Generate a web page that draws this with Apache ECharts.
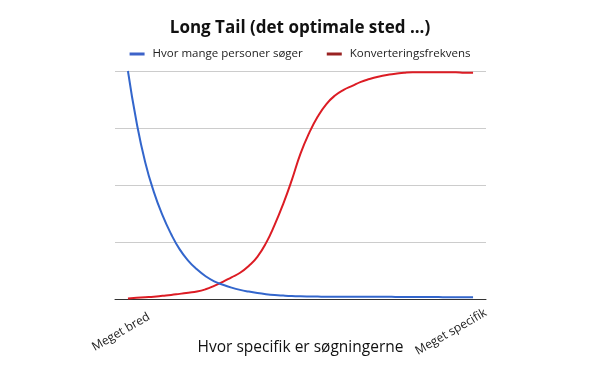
<!DOCTYPE html>
<html>
<head>
<meta charset="utf-8">
<script src="https://cdn.jsdelivr.net/npm/echarts@6/dist/echarts.min.js"></script>
<style>html,body{margin:0;padding:0;background:#fff;}#c{width:600px;height:371px;}</style>
</head>
<body>
<div id="c"></div>
<script>
const titleText = 'Long Tail (det optimale sted ...)';
const xAxisName = 'Hvor specifik er søgningerne';
const endLabels = ['Meget bred', 'Meget specifik'];
const seriesNames = ['Hvor mange personer søger', 'Konverteringsfrekvens'];
// 41 evenly spaced steps from "Meget bred" (0) to "Meget specifik" (40)
const searchers = [4.0,3.1,2.4,1.88,1.47,1.14,0.87,0.67,0.52,0.4,
                   0.31,0.25,0.2,0.16,0.13,0.105,0.085,0.07,0.06,0.052,
                   0.047,0.044,0.042,0.04,0.04,0.04,0.04,0.04,0.04,0.04,
                   0.04,0.037,0.035,0.035,0.035,0.034,0.033,0.032,0.031,0.03,0.03];
const conversion = [0.01,0.02,0.03,0.04,0.055,0.07,0.09,0.11,0.13,0.17,
                    0.23,0.3,0.38,0.46,0.58,0.74,0.98,1.3,1.67,2.09,
                    2.55,2.91,3.2,3.42,3.57,3.67,3.74,3.81,3.86,3.9,
                    3.93,3.95,3.97,3.98,3.98,3.98,3.98,3.98,3.98,3.97,3.97];
const steps = searchers.map((_, i) => i);
const yTicks = [0,1,2,3,4];

const chart = echarts.init(document.getElementById('c'), null, {renderer:'canvas'});
const font = 'Open Sans';
chart.setOption({
  animation:false,
  backgroundColor:'#fff',
  title:{text:titleText,left:'center',top:15,textStyle:{fontFamily:font,fontSize:17,fontWeight:'bold',color:'#111'}},
  legend:{top:43,left:'center',itemWidth:15,itemHeight:3,itemGap:24,icon:'rect',
    textStyle:{fontFamily:font,fontSize:11.5,color:'#222',padding:[0,0,0,3]},
    data:[{name:seriesNames[0],itemStyle:{color:'#3d63c9'}},{name:seriesNames[1],itemStyle:{color:'#992222'}}]},
  grid:{left:115,right:114,top:71,bottom:72,containLabel:false,outerBoundsMode:'none'},
  xAxis:{type:'value',min:-1.5,max:41.5,name:xAxisName,nameLocation:'middle',nameGap:41,nameMoveOverlap:false,
    nameTextStyle:{fontFamily:font,fontSize:15.5,color:'#111'},
    axisLine:{show:true,lineStyle:{color:'#333',width:1}},axisTick:{show:false},splitLine:{show:false},
    axisLabel:{customValues:[-0.8,37.45],rotate:30,align:'center',verticalAlign:'middle',margin:33,
      fontFamily:font,fontSize:12,color:'#222',
      formatter:function(v){return v<10?endLabels[0]:endLabels[1];}}},
  yAxis:{type:'value',min:yTicks[0],max:yTicks[yTicks.length-1],interval:1,
    axisLine:{show:false},axisTick:{show:false},axisLabel:{show:false},
    splitLine:{lineStyle:{color:'#cccccc',width:1}}},
  series:[
    {name:seriesNames[0],type:'line',data:steps.map((s,i)=>[s,searchers[i]]),smooth:true,showSymbol:false,
      lineStyle:{color:'#3366cc',width:2},itemStyle:{color:'#3366cc'},z:3},
    {name:seriesNames[1],type:'line',data:steps.map((s,i)=>[s,conversion[i]]),smooth:true,showSymbol:false,
      lineStyle:{color:'#dc1c24',width:2},itemStyle:{color:'#dc1c24'},z:2}
  ]
});
</script>
</body>
</html>
